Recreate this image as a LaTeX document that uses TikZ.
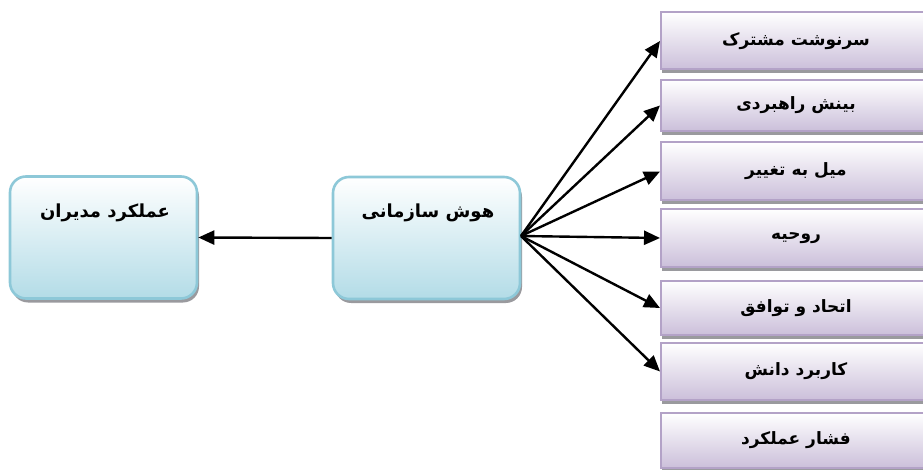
\documentclass[tikz,border=0pt]{standalone}
\usepackage{fontspec}
\newfontfamily\arabicfont[Script=Arabic]{DejaVu Sans}
\TeXXeTstate=1
\usetikzlibrary{shadows,arrows.meta}
\definecolor{blueEdge}{HTML}{8DC8D8}
\definecolor{blueFill}{HTML}{B3DCE7}
\definecolor{lilaEdge}{HTML}{B3A2C7}
\definecolor{lilaFill}{HTML}{CBBFDA}
\definecolor{shade}{HTML}{9A9A9E}
\tikzset{
  bluebox/.style={draw=blueEdge, line width=2.6pt, rounded corners=16pt,
    top color=white, bottom color=blueFill, minimum width=187pt, minimum height=122pt,
    drop shadow={shadow xshift=2pt, shadow yshift=-4pt, fill=shade, opacity=1}},
  lilabox/.style={draw=lilaEdge, line width=2pt,
    top color=white, bottom color=lilaFill, minimum width=270pt,
    drop shadow={shadow xshift=1pt, shadow yshift=-4pt, fill=shade, opacity=1},
    font=\arabicfont\bfseries\fontsize{17}{20}\selectfont},
  lbl/.style={font=\arabicfont\bfseries\fontsize{18}{21}\selectfont, inner sep=0pt},
  conn/.style={line width=2.4pt, -{Triangle[length=16pt,width=14pt]}},
}
\begin{document}
\begin{tikzpicture}[x={(1pt,0)}, y={(0,-1pt)}]
\useasboundingbox (0,0) rectangle (923,470);
\clip (0,0) rectangle (923,470);
% left and middle boxes
\node[bluebox] (mgr) at (103.5,237.5) {};
\node[lbl] (mgrt) at (105,213) {\beginR عملکرد مدیران\endR};
\node[bluebox] (oi) at (426.5,238) {};
\node[lbl] (oit) at (428,213) {\beginR هوش سازمانی\endR};
% right boxes
\node[lilabox, minimum height=57pt] (r1) at (796,41) {\beginR سرنوشت مشترک\endR};
\node[lilabox, minimum height=51pt] (r2) at (796,105.5) {\beginR بینش راهبردی\endR};
\node[lilabox, minimum height=58pt] (r3) at (796,171.5) {\beginR میل به تغییر\endR};
\node[lilabox, minimum height=58pt] (r4) at (796,238) {\beginR روحیه\endR};
\node[lilabox, minimum height=54pt] (r5) at (796,308) {\beginR اتحاد و توافق\endR};
\node[lilabox, minimum height=57pt] (r6) at (796,371.5) {\beginR کاربرد دانش\endR};
\node[lilabox, minimum height=55pt] (r7) at (796,440.5) {\beginR فشار عملکرد\endR};
% connectors
\coordinate (fan) at (521,236);
\draw[conn] (oi.west) -- (mgr.east);
\foreach \t in {r1,r2,r3,r4,r5,r6}
  \draw[conn] (fan) -- (\t.west);
\end{tikzpicture}
\end{document}
